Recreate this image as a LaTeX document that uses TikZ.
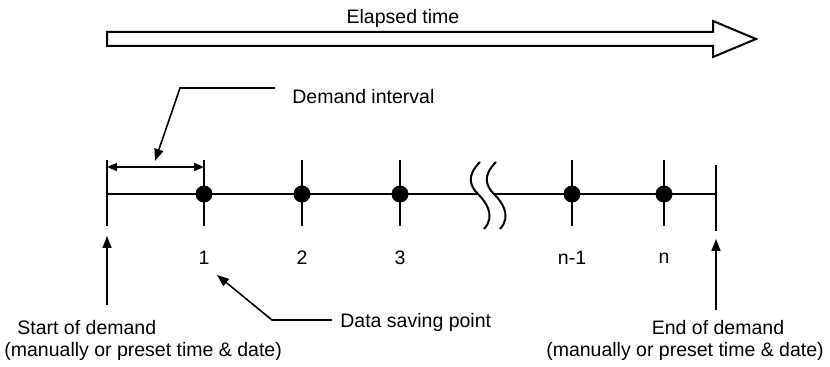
\documentclass[tikz,border=0pt]{standalone}
\usepackage{fontspec}
\setmainfont{Liberation Sans}
\usetikzlibrary{positioning, arrows.meta}

\begin{document}
\begin{tikzpicture}[
  x=0.5pt, y=-0.5pt,
  txt/.style={font=\fontsize{9.75}{11.7}\selectfont, inner sep=0pt},
  axis/.style={line width=1pt},
  dot/.style={circle, fill=black, minimum size=8.5pt, inner sep=0pt},
  conn/.style={-{Triangle[length=6pt, width=4.5pt]}, line width=0.8pt},
  dim/.style={{Triangle[length=5pt, width=4pt]}-{Triangle[length=5pt, width=4pt]}, line width=0.8pt}
]
  \useasboundingbox (0,0) rectangle (830,367);

  % elapsed time arrow
  \node[txt] (elapsed) at (403,18) {Elapsed time};
  \draw[axis, fill=white] (107,32) -- (713,32) -- (713,21) -- (756,39)
    -- (713,57) -- (713,46) -- (107,46) -- cycle;

  % time line
  \coordinate (t0)   at (107,194);
  \coordinate (t1)   at (204,194);
  \coordinate (t2)   at (302,194);
  \coordinate (t3)   at (400,194);
  \coordinate (tn1)  at (572,194);
  \coordinate (tn)   at (664,194);
  \coordinate (tend) at (716,194);
  \coordinate (cut1) at (478,194);
  \coordinate (cut2) at (494,194);

  \draw[axis] (t0) -- (cut1);
  \draw[axis] (cut2) -- (tend);
  \draw[axis] (480,162) .. controls (466,176) and (470,186) .. (cut1)
    .. controls (486,202) and (496,216) .. (484,229);
  \draw[axis] (496,162) .. controls (482,176) and (486,186) .. (cut2)
    .. controls (502,202) and (512,216) .. (500,229);

  \draw[axis] (107,160) -- (107,226);
  \draw[axis] (716,165) -- (716,231);
  \foreach \t in {t1, t2, t3, tn1, tn} {
    \draw[axis] ([yshift=17pt]\t) -- ([yshift=-16pt]\t);
    \node[dot] at (\t) {};
  }

  % point numbers
  \node[txt] (n1)  at (204,258) {1};
  \node[txt] (n2)  at (302,258) {2};
  \node[txt] (n3)  at (400,258) {3};
  \node[txt] (nn1) at (572,258) {n-1};
  \node[txt] (nn)  at (664,258) {n};

  % demand interval
  \coordinate (dimL) at (107,167);
  \coordinate (dimR) at (204,167);
  \draw[dim] (dimL) -- (dimR);
  \node[txt, anchor=west] (interval) at (292,97) {Demand interval};
  \coordinate (ivend) at (275,88);
  \draw[conn] (ivend) -- (180,88) -- (155,161);

  % data saving point
  \node[txt, anchor=west] (saving) at (340,322) {Data saving point};
  \coordinate (svend) at (332,320);
  \draw[conn] (svend) -- (272,320) -- (217,275);

  % start and end of demand
  \node[txt, anchor=west] (start) at (17,328) {Start of demand};
  \node[txt, anchor=west] (startnote) at (4,351) {(manually or preset time \& date)};
  \node[txt] (end) at (718,328) {End of demand};
  \node[txt] (endnote) at (685,351) {(manually or preset time \& date)};
  \draw[conn] (107,305) -- (107,236);
  \draw[conn] (716,310) -- (716,239);
\end{tikzpicture}
\end{document}
